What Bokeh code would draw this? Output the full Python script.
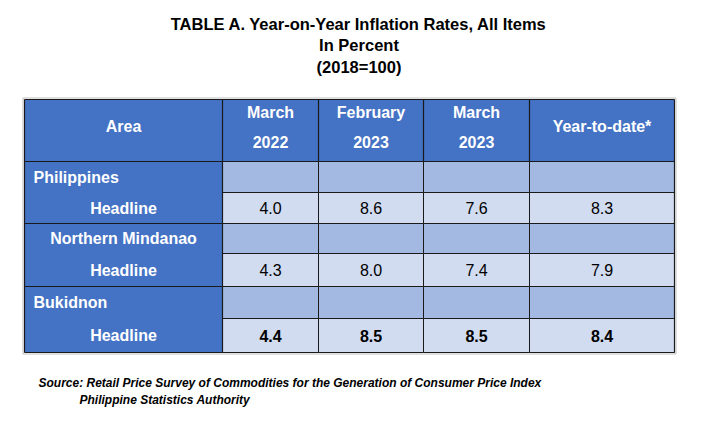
from bokeh.plotting import figure
from bokeh.models import Range1d
from bokeh.core.properties import value
from bokeh.embed import file_html
from bokeh.resources import INLINE

# ---- data ----
title_lines = ["TABLE A. Year-on-Year Inflation Rates, All Items", "In Percent", "(2018=100)"]
col_line1 = ["March", "February", "March", "Year-to-date*"]
col_line2 = ["2022", "2023", "2023", ""]
areas = ["Philippines", "Northern Mindanao", "Bukidnon"]
area_align = ["left", "center", "left"]
row_label = "Headline"
values = [
    [4.0, 8.6, 7.6, 8.3],
    [4.3, 8.0, 7.4, 7.9],
    [4.4, 8.5, 8.5, 8.4],
]
bold_rows = [False, False, True]
source_lines = ["Source: Retail Price Survey of Commodities for the Generation of Consumer Price Index",
                "Philippine Statistics Authority"]

# ---- layout (page pixels) ----
W, H = 703, 410
col_edges = [24, 222, 318, 423, 529, 674]
header_top, header_bot = 99, 161
row_edges = [161, 192, 223, 253, 286, 318, 352]

BLUE = "#4472C4"
MID = "#A3B9E2"
LIGHT = "#D1DCF0"
FONT = "Liberation Sans"

p = figure(width=W, height=H, output_backend="svg", toolbar_location=None,
           x_range=Range1d(0, W), y_range=Range1d(H, 0),
           min_border=0, outline_line_color=None)
p.axis.visible = False
p.grid.visible = False
p.background_fill_color = "white"

# header + area column background
p.quad(left=[col_edges[0]], right=[col_edges[-1]], top=[header_top], bottom=[header_bot],
       fill_color=BLUE, line_color=None)
p.quad(left=[col_edges[0]], right=[col_edges[1]], top=[header_bot], bottom=[row_edges[-1]],
       fill_color=BLUE, line_color=None)

# data cells
L, R, T, B, C = [], [], [], [], []
for g in range(len(areas)):
    for j in range(4):
        for k in range(2):
            L.append(col_edges[j + 1]); R.append(col_edges[j + 2])
            T.append(row_edges[2 * g + k]); B.append(row_edges[2 * g + k + 1])
            C.append(MID if k == 0 else LIGHT)
p.quad(left=L, right=R, top=T, bottom=B, fill_color=C, line_color="#1a1a1a", line_width=1)

# grid lines
xs, ys = [], []
for x in col_edges:
    xs.append([x, x]); ys.append([header_top, row_edges[-1] if x in (col_edges[0], col_edges[1], col_edges[-1]) else header_bot])
xs.append([col_edges[0], col_edges[-1]]); ys.append([header_top, header_top])
for yy in [header_bot, row_edges[2], row_edges[4], row_edges[6]]:
    xs.append([col_edges[0], col_edges[1]]); ys.append([yy, yy])
p.multi_line(xs=xs, ys=ys, line_color="#1a1a1a", line_width=1.2)
# light grey outer frame
p.quad(left=[col_edges[0] - 1.5], right=[col_edges[-1] + 1.5], top=[header_top - 1.5],
       bottom=[row_edges[-1] + 1.5], fill_color=None, line_color="#bfbfbf", line_width=1)

def txt(x, y, t, size, align="center", style="bold", color="white", font=FONT):
    p.text(x=[x], y=[y], text=[t], text_font=value(font), text_font_size=f"{size}px",
           text_font_style=style, text_color=color, text_align=align, text_baseline="middle")

# title
for i, t in enumerate(title_lines):
    txt(358.5, 23 + i * 21.5, t, 16.5, color="black")

# header text
acx = (col_edges[0] + col_edges[1]) / 2
txt(acx, 126, "Area", 16)
for j in range(4):
    cx = (col_edges[j + 1] + col_edges[j + 2]) / 2
    if col_line2[j]:
        txt(cx, 112, col_line1[j], 16)
        txt(cx, 141, col_line2[j], 16)
    else:
        txt(cx, 126, col_line1[j], 16)

# area labels and values
for g, a in enumerate(areas):
    y0 = (row_edges[2 * g] + row_edges[2 * g + 1]) / 2
    y1 = (row_edges[2 * g + 1] + row_edges[2 * g + 2]) / 2
    if area_align[g] == "left":
        txt(33, y0, a, 16, align="left")
    else:
        txt(acx, y0, a, 16)
    txt(acx, y1, row_label, 16)
    for j in range(4):
        cx = (col_edges[j + 1] + col_edges[j + 2]) / 2
        txt(cx, y1, f"{values[g][j]:.1f}", 16, style="bold" if bold_rows[g] else "normal", color="black")

# source
txt(38, 382, source_lines[0], 12, align="left", style="bold italic", color="black")
txt(79, 399, source_lines[1], 12, align="left", style="bold italic", color="black")

open("out.html", "w").write(file_html(p, INLINE))
